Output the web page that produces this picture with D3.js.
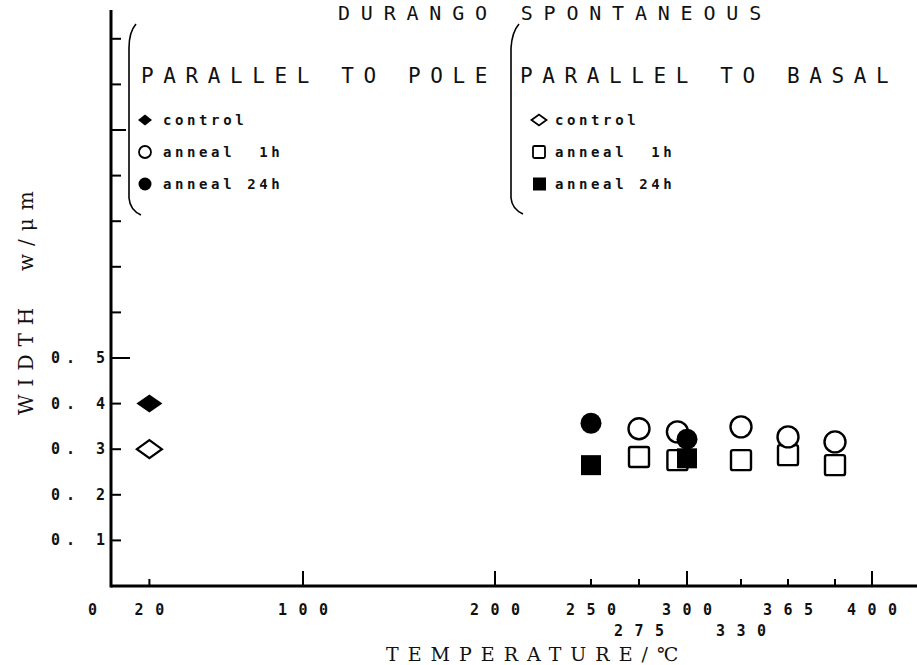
<!DOCTYPE html>
<html>
<head>
<meta charset="utf-8">
<script src="https://cdn.jsdelivr.net/npm/d3@7"></script>
<style>
  body { margin: 0; background: #fff; }
  svg { display: block; }
  text { fill: #111; }
</style>
</head>
<body>
<div id="chart"></div>
<script>
// values
const poleControlTemp = [20];
const poleControlWidth = [0.40];
const basalControlTemp = [20];
const basalControlWidth = [0.30];

const pole1hTemp = [275, 295, 330, 365, 385];
const pole1hWidth = [0.345, 0.338, 0.349, 0.327, 0.316];
const basal1hTemp = [275, 295, 330, 365, 385];
const basal1hWidth = [0.283, 0.276, 0.276, 0.287, 0.265];

const pole24hTemp = [250, 300];
const pole24hWidth = [0.357, 0.322];
const basal24hTemp = [250, 300];
const basal24hWidth = [0.265, 0.280];

const xTickValues = [20, 100, 200, 250, 275, 300, 330, 365, 385, 400];
const xTickLabels = ["20", "100", "200", "250", "275", "300", "330", "365", "", "400"];
const xLowRow = [275, 330];
const xMajor = [100, 200, 300, 400];

const yTickValues = [0.1, 0.2, 0.3, 0.4, 0.5, 0.6, 0.7, 0.8, 0.9, 1.0, 1.1, 1.2];
const yLabelled = [0.1, 0.2, 0.3, 0.4, 0.5];

const legendPole = ["control", "anneal  1h", "anneal 24h"];
const legendBasal = ["control", "anneal  1h", "anneal 24h"];

const W = 917, H = 665;
const mono = "'DejaVu Sans Mono', monospace";

const svg = d3.select("#chart").append("svg").attr("width", W).attr("height", H);
svg.append("rect").attr("width", W).attr("height", H).attr("fill", "#fff");

// hand drawn temperature axis is not uniform above 300
const x0 = 111;
const x = d3
  .scaleLinear()
  .domain([0, 300, 330, 365, 385, 400])
  .range([0, 576, 630, 677, 724, 761].map((d) => x0 + d));

const y = d3.scaleLinear().domain([0, 1]).range([586, 130]);

// axes lines
svg.append("line")
  .attr("x1", x(0)).attr("x2", W)
  .attr("y1", y(0)).attr("y2", y(0))
  .attr("stroke", "#000").attr("stroke-width", 3);
svg.append("line")
  .attr("x1", x(0)).attr("x2", x(0))
  .attr("y1", y(0) + 1.5).attr("y2", y(1.263))
  .attr("stroke", "#000").attr("stroke-width", 3);

// x ticks (inside, pointing up)
svg.selectAll(".xtick")
  .data(xTickValues)
  .enter()
  .append("line")
  .attr("class", "xtick")
  .attr("x1", (d) => x(d)).attr("x2", (d) => x(d))
  .attr("y1", y(0))
  .attr("y2", (d) => y(0) - (xMajor.includes(d) ? 15 : 7))
  .attr("stroke", "#000").attr("stroke-width", 2);

// y ticks (inside, pointing right)
svg.selectAll(".ytick")
  .data(yTickValues)
  .enter()
  .append("line")
  .attr("class", "ytick")
  .attr("x1", x(0)).attr("y1", (d) => y(d))
  .attr("x2", (d) => x(0) + (Math.abs(d - 0.5) < 1e-9 ? 19 : Math.abs(d - 1) < 1e-9 ? 15 : 10))
  .attr("y2", (d) => y(d))
  .attr("stroke", "#000").attr("stroke-width", 2);

// letter-spaced label helper (start position so that text is centred)
function spacedStart(str, cx, adv, ls) {
  const n = str.length;
  return cx - (n * adv + (n - 1) * ls) / 2;
}

const tickFont = 15, tickAdv = 15 * 0.602, tickLs = 11.5;

svg.selectAll(".xlabel")
  .data(xTickValues.filter((d, i) => xTickLabels[i] !== ""))
  .enter()
  .append("text")
  .attr("class", "xlabel")
  .attr("x", (d) => spacedStart(xTickLabels[xTickValues.indexOf(d)], x(d), tickAdv, tickLs))
  .attr("y", (d) => (xLowRow.includes(d) ? 636 : 615))
  .attr("font-family", mono).attr("font-weight", "bold")
  .attr("font-size", tickFont).attr("letter-spacing", tickLs)
  .text((d) => xTickLabels[xTickValues.indexOf(d)]);

svg.append("text")
  .attr("x", x(0) - 23).attr("y", 615)
  .attr("font-family", mono).attr("font-weight", "bold")
  .attr("font-size", tickFont)
  .text("0");

svg.selectAll(".ylabel")
  .data(yLabelled)
  .enter()
  .append("text")
  .attr("class", "ylabel")
  .attr("x", 51)
  .attr("y", (d) => y(d) + 5)
  .attr("font-family", mono).attr("font-weight", "bold")
  .attr("font-size", tickFont).attr("letter-spacing", 6)
  .style("white-space", "pre")
  .text((d) => "0. " + Math.round(d * 10));

// axis titles
svg.append("text")
  .attr("x", 386).attr("y", 661)
  .attr("font-family", "'DejaVu Serif', serif")
  .attr("font-size", 19).attr("letter-spacing", 9)
  .text("TEMPERATURE/\u2103");

svg.append("text")
  .attr("transform", "translate(33,415) rotate(-90)")
  .attr("font-family", "'DejaVu Serif', serif")
  .attr("font-size", 20).attr("letter-spacing", 8)
  .style("white-space", "pre")
  .text("WIDTH  w/\u03bcm");

// title at the very top edge
svg.append("text")
  .attr("x", 338).attr("y", 20)
  .attr("font-family", mono)
  .attr("font-size", 20).attr("letter-spacing", 10.8)
  .text("DURANGO SPONTANEOUS");

// legend headers and brackets
svg.append("text")
  .attr("x", 141).attr("y", 83)
  .attr("font-family", mono).attr("font-size", 21).attr("letter-spacing", 9.6)
  .text("PARALLEL TO POLE");
svg.append("text")
  .attr("x", 520).attr("y", 83)
  .attr("font-family", mono).attr("font-size", 21).attr("letter-spacing", 9.6)
  .text("PARALLEL TO BASAL");

const brackets = [
  "M136,24 Q129,32 129,48 L129,198 Q130,210 141,215",
  "M519,24 Q512,32 511,48 L511,198 Q512,209 523,214",
];
svg.selectAll(".bracket")
  .data(brackets)
  .enter()
  .append("path")
  .attr("d", (d) => d)
  .attr("fill", "none").attr("stroke", "#000").attr("stroke-width", 1.6);

function diamond(cx, cy, w, h) {
  return `M${cx - w / 2},${cy} L${cx},${cy - h / 2} L${cx + w / 2},${cy} L${cx},${cy + h / 2} Z`;
}

// legend entries
const legRowY = [120, 152, 184];
const legFont = 14;

svg.selectAll(".legPole")
  .data(legendPole)
  .enter()
  .append("text")
  .attr("x", 163).attr("y", (d, i) => legRowY[i] + 5)
  .attr("font-family", mono).attr("font-weight", "bold")
  .attr("font-size", legFont).attr("letter-spacing", 3.6)
  .style("white-space", "pre")
  .text((d) => d);

svg.selectAll(".legBasal")
  .data(legendBasal)
  .enter()
  .append("text")
  .attr("x", 555).attr("y", (d, i) => legRowY[i] + 5)
  .attr("font-family", mono).attr("font-weight", "bold")
  .attr("font-size", legFont).attr("letter-spacing", 3.6)
  .style("white-space", "pre")
  .text((d) => d);

svg.append("path").attr("d", diamond(145, legRowY[0], 14, 11)).attr("fill", "#000");
svg.append("circle").attr("cx", 145).attr("cy", legRowY[1]).attr("r", 6)
  .attr("fill", "#fff").attr("stroke", "#000").attr("stroke-width", 1.8);
svg.append("circle").attr("cx", 145).attr("cy", legRowY[2]).attr("r", 6.5).attr("fill", "#000");

svg.append("path").attr("d", diamond(539, legRowY[0], 15, 11))
  .attr("fill", "#fff").attr("stroke", "#000").attr("stroke-width", 1.8);
svg.append("rect").attr("x", 533).attr("y", legRowY[1] - 6).attr("width", 12).attr("height", 12)
  .attr("rx", 1.5).attr("fill", "#fff").attr("stroke", "#000").attr("stroke-width", 1.8);
svg.append("rect").attr("x", 533).attr("y", legRowY[2] - 6.5).attr("width", 13).attr("height", 13)
  .attr("fill", "#000");

// data marks
const sq = 20, rad = 10.5;

svg.selectAll(".b1h")
  .data(d3.zip(basal1hTemp, basal1hWidth))
  .enter()
  .append("rect")
  .attr("x", (d) => x(d[0]) - sq / 2).attr("y", (d) => y(d[1]) - sq / 2)
  .attr("width", sq).attr("height", sq).attr("rx", 2)
  .attr("fill", "#fff").attr("stroke", "#000").attr("stroke-width", 2.4);

svg.selectAll(".p1h")
  .data(d3.zip(pole1hTemp, pole1hWidth))
  .enter()
  .append("circle")
  .attr("cx", (d) => x(d[0])).attr("cy", (d) => y(d[1])).attr("r", rad)
  .attr("fill", "#fff").attr("stroke", "#000").attr("stroke-width", 2.4);

svg.selectAll(".b24h")
  .data(d3.zip(basal24hTemp, basal24hWidth))
  .enter()
  .append("rect")
  .attr("x", (d) => x(d[0]) - sq / 2).attr("y", (d) => y(d[1]) - sq / 2)
  .attr("width", sq).attr("height", sq)
  .attr("fill", "#000");

svg.selectAll(".p24h")
  .data(d3.zip(pole24hTemp, pole24hWidth))
  .enter()
  .append("circle")
  .attr("cx", (d) => x(d[0])).attr("cy", (d) => y(d[1])).attr("r", rad)
  .attr("fill", "#000");

svg.selectAll(".bctl")
  .data(d3.zip(basalControlTemp, basalControlWidth))
  .enter()
  .append("path")
  .attr("d", (d) => diamond(x(d[0]), y(d[1]), 25, 18))
  .attr("fill", "#fff").attr("stroke", "#000").attr("stroke-width", 2.2);

svg.selectAll(".pctl")
  .data(d3.zip(poleControlTemp, poleControlWidth))
  .enter()
  .append("path")
  .attr("d", (d) => diamond(x(d[0]), y(d[1]), 26, 18))
  .attr("fill", "#000");
</script>
</body>
</html>
